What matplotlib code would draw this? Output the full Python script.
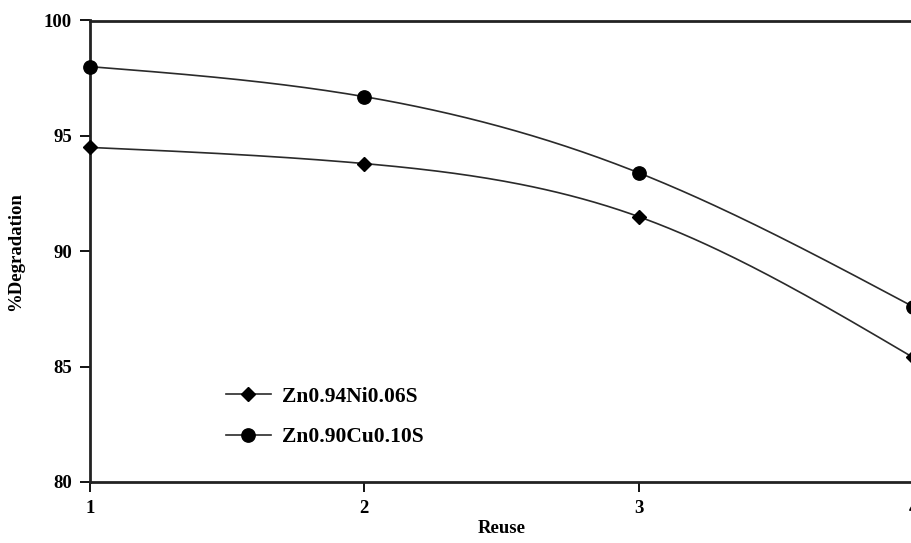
import numpy as np
import matplotlib
matplotlib.use("Agg")
import matplotlib.pyplot as plt

# data
reuse = [1, 2, 3, 4]
zn_ni = [94.5, 93.8, 91.5, 85.4]
zn_cu = [98.0, 96.7, 93.4, 87.6]
labels = ["Zn0.94Ni0.06S", "Zn0.90Cu0.10S"]


def natural_spline(x, y, n=200):
    """Natural cubic spline through the points, only for drawing the smooth line"""
    x = np.asarray(x, float)
    y = np.asarray(y, float)
    k = len(x)
    h = np.diff(x)
    A = np.zeros((k, k))
    b = np.zeros(k)
    A[0, 0] = 1
    A[-1, -1] = 1
    for i in range(1, k - 1):
        A[i, i - 1] = h[i - 1]
        A[i, i] = 2 * (h[i - 1] + h[i])
        A[i, i + 1] = h[i]
        b[i] = 6 * ((y[i + 1] - y[i]) / h[i] - (y[i] - y[i - 1]) / h[i - 1])
    m = np.linalg.solve(A, b)
    xs = np.linspace(x[0], x[-1], n)
    idx = np.clip(np.searchsorted(x, xs) - 1, 0, k - 2)
    x0, x1 = x[idx], x[idx + 1]
    hh = x1 - x0
    t0, t1 = x1 - xs, xs - x0
    ys = (m[idx] * t0 ** 3 + m[idx + 1] * t1 ** 3) / (6 * hh) \
        + (y[idx] / hh - m[idx] * hh / 6) * t0 \
        + (y[idx + 1] / hh - m[idx + 1] * hh / 6) * t1
    return xs, ys


plt.rcParams['font.family'] = ['Liberation Serif', 'DejaVu Serif']
plt.rcParams['font.weight'] = 'bold'

fig = plt.figure(figsize=(9.11, 5.43), dpi=100)
ax = fig.add_axes([90 / 911, 61 / 543, 823 / 911, 461.5 / 543])

line_col = '#2a2a2a'
for vals, mk, ms in [(zn_ni, 'D', 7.5), (zn_cu, 'o', 9.6)]:
    xs, ys = natural_spline(reuse, vals)
    ax.plot(xs, ys, color=line_col, lw=1.2, zorder=2)
    ax.plot(reuse, vals, linestyle='none', marker=mk, ms=ms, color='black',
            zorder=3, clip_on=False)

# legend handles
h1, = ax.plot([], [], color=line_col, lw=1.2, marker='D', ms=7.5,
              markerfacecolor='black', markeredgecolor='black')
h2, = ax.plot([], [], color=line_col, lw=1.2, marker='o', ms=9.6,
              markerfacecolor='black', markeredgecolor='black')
leg = ax.legend([h1, h2], labels, loc='upper left',
                bbox_to_anchor=(215 / 911, 167 / 543), bbox_transform=fig.transFigure,
                frameon=False, borderpad=0, handlelength=2.1, handletextpad=0.5,
                labelspacing=0.95, prop={'family': 'Liberation Serif', 'weight': 'bold', 'size': 15.5})

ax.set_xlim(1, 4)
ax.set_ylim(80, 100)
ax.set_xticks(reuse)
ax.set_yticks([80, 85, 90, 95, 100])
ax.tick_params(direction='out', length=7, width=1.3, labelsize=13.5, colors='black', pad=6)
for lab in ax.get_xticklabels() + ax.get_yticklabels():
    lab.set_fontweight('bold')
for s in ax.spines.values():
    s.set_linewidth(2)
    s.set_color('#222222')

ax.set_xlabel('Reuse', fontsize=13.5, fontweight='bold', labelpad=2)
ax.set_ylabel('%Degradation', fontsize=13.5, fontweight='bold', labelpad=14)

fig.savefig('out.png', dpi=100)
